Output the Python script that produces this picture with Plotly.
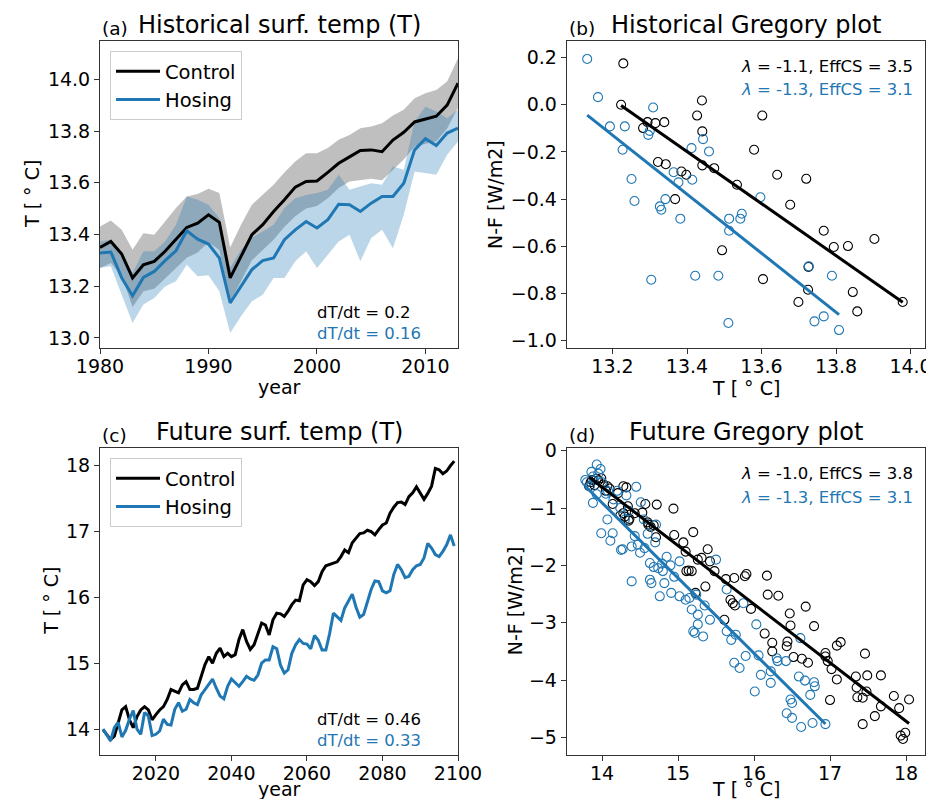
import numpy as np
import plotly.graph_objects as go

W, H = 934, 799
BLUE = "#1f77b4"
FONT = "DejaVu Sans"

# ---------------- data: (a) historical surface temperature ----------------
hist_years = list(range(1980, 2014))
hist_control = [13.350, 13.373, 13.324, 13.232, 13.283, 13.296, 13.335, 13.380, 13.427, 13.444,
                13.476, 13.447, 13.232, 13.315, 13.399, 13.438, 13.489, 13.534, 13.583, 13.605,
                13.607, 13.640, 13.675, 13.700, 13.725, 13.727, 13.720, 13.765, 13.795, 13.835,
                13.845, 13.857, 13.900, 13.985]
hist_control_hi = [13.431, 13.454, 13.418, 13.341, 13.405, 13.399, 13.450, 13.502, 13.547, 13.556,
                   13.577, 13.560, 13.350, 13.438, 13.515, 13.553, 13.592, 13.640, 13.682, 13.714,
                   13.714, 13.734, 13.766, 13.785, 13.811, 13.817, 13.830, 13.860, 13.882, 13.927,
                   13.946, 13.959, 13.991, 14.081]
hist_control_lo = [13.27, 13.29, 13.24, 13.12, 13.18, 13.19, 13.23, 13.27, 13.31, 13.33,
                   13.37, 13.34, 13.14, 13.22, 13.30, 13.34, 13.38, 13.43, 13.47, 13.50,
                   13.51, 13.54, 13.58, 13.605, 13.61, 13.615, 13.61, 13.65, 13.69, 13.74,
                   13.75, 13.76, 13.81, 13.89]
hist_hosing = [13.328, 13.332, 13.232, 13.163, 13.234, 13.257, 13.299, 13.337, 13.414, 13.382,
               13.363, 13.309, 13.135, 13.200, 13.264, 13.299, 13.309, 13.380, 13.418, 13.450,
               13.425, 13.457, 13.517, 13.515, 13.489, 13.521, 13.547, 13.547, 13.598, 13.727,
               13.770, 13.744, 13.792, 13.811]
hist_hosing_hi = [13.373, 13.380, 13.309, 13.251, 13.335, 13.335, 13.373, 13.438, 13.547, 13.534,
                  13.515, 13.464, 13.271, 13.341, 13.386, 13.412, 13.438, 13.502, 13.540, 13.553,
                  13.560, 13.573, 13.631, 13.573, 13.586, 13.598, 13.592, 13.663, 13.650, 13.837,
                  13.894, 13.875, 13.849, 13.882]
hist_hosing_lo = [13.271, 13.277, 13.167, 13.058, 13.129, 13.154, 13.199, 13.219, 13.283, 13.238,
                  13.242, 13.180, 13.019, 13.084, 13.142, 13.167, 13.232, 13.232, 13.296, 13.335,
                  13.270, 13.322, 13.373, 13.399, 13.296, 13.386, 13.418, 13.347, 13.476, 13.643,
                  13.637, 13.631, 13.708, 13.759]

# ---------------- data: (b) historical Gregory plot ----------------
hist_greg_ctrl_T = [13.229, 13.223, 13.440, 13.427, 13.602, 13.294, 13.315, 13.339, 13.282, 13.441,
                    13.580, 13.322, 13.343, 13.385, 13.398, 13.441, 13.473, 13.642, 13.720, 13.534,
                    13.368, 13.677, 13.767, 13.903, 13.794, 13.832, 13.494, 13.726, 13.604, 13.725,
                    13.845, 13.699, 13.979, 13.857]
hist_greg_ctrl_N = [0.175, 0.0, 0.018, -0.046, -0.046, -0.074, -0.078, -0.074, -0.099, -0.113,
                    -0.191, -0.243, -0.252, -0.283, -0.297, -0.257, -0.269, -0.297, -0.314, -0.339,
                    -0.400, -0.424, -0.534, -0.569, -0.603, -0.599, -0.617, -0.687, -0.739, -0.784,
                    -0.794, -0.836, -0.836, -0.876]
hist_greg_hos_T = [13.132, 13.161, 13.309, 13.193, 13.233, 13.296, 13.300, 13.443, 13.412, 13.459,
                   13.227, 13.364, 13.377, 13.414, 13.251, 13.597, 13.259, 13.342, 13.327, 13.331,
                   13.382, 13.513, 13.547, 13.543, 13.513, 13.304, 13.422, 13.484, 13.727, 13.789,
                   13.511, 13.742, 13.767, 13.808]
hist_greg_hos_N = [0.194, 0.032, -0.012, -0.092, -0.092, -0.128, -0.111, -0.146, -0.184, -0.198,
                   -0.191, -0.286, -0.329, -0.318, -0.315, -0.392, -0.408, -0.400, -0.431, -0.445,
                   -0.483, -0.483, -0.462, -0.483, -0.534, -0.742, -0.725, -0.725, -0.685, -0.725,
                   -0.925, -0.918, -0.897, -0.955]

# ---------------- data: (c) future surface temperature ----------------
fut_years = list(range(2006, 2100))
fut_control = [13.99, 13.91, 13.84, 13.89, 14.09, 14.29, 14.34, 14.14, 14.02, 14.19,
               14.29, 14.34, 14.29, 14.14, 14.22, 14.29, 14.34, 14.45, 14.60, 14.57,
               14.55, 14.67, 14.72, 14.60, 14.60, 14.62, 14.80, 14.98, 15.10, 15.00,
               15.15, 15.23, 15.10, 15.15, 15.10, 15.13, 15.36, 15.51, 15.33, 15.21,
               15.28, 15.46, 15.61, 15.58, 15.43, 15.66, 15.76, 15.75, 15.71, 15.79,
               15.89, 15.96, 15.95, 16.19, 16.27, 16.24, 16.18, 16.24, 16.39, 16.48,
               16.50, 16.52, 16.54, 16.62, 16.72, 16.68, 16.83, 16.90, 16.97, 16.98,
               17.02, 17.00, 16.95, 17.03, 17.10, 17.13, 17.28, 17.37, 17.44, 17.45,
               17.41, 17.53, 17.59, 17.68, 17.58, 17.49, 17.58, 17.69, 17.96, 17.94,
               17.88, 17.92, 18.00, 18.07]
fut_hosing = [14.00, 13.90, 13.82, 14.02, 14.10, 13.88, 13.98, 14.15, 14.28, 14.00,
              13.92, 14.25, 14.20, 13.90, 13.92, 13.97, 14.15, 14.07, 14.06, 14.30,
              14.40, 14.27, 14.30, 14.45, 14.40, 14.37, 14.52, 14.60, 14.68, 14.76,
              14.62, 14.50, 14.46, 14.65, 14.76, 14.70, 14.65, 14.72, 14.80, 14.76,
              14.74, 14.82, 15.00, 15.05, 15.05, 15.25, 15.22, 14.97, 14.85, 14.90,
              15.15, 15.28, 15.36, 15.30, 15.29, 15.22, 15.42, 15.35, 15.20, 15.20,
              15.45, 15.76, 15.70, 15.65, 15.84, 15.95, 16.05, 15.85, 15.70, 15.74,
              15.95, 16.12, 16.25, 16.24, 16.10, 16.07, 16.10, 16.35, 16.50, 16.42,
              16.30, 16.32, 16.42, 16.48, 16.50, 16.60, 16.82, 16.75, 16.65, 16.62,
              16.70, 16.80, 16.95, 16.78]

# ---------------- data: (d) future Gregory plot ----------------
fut_greg_ctrl_T = [13.83, 13.87, 13.93, 13.99, 14.02, 14.07, 14.14, 14.21, 14.28, 14.32,
                   14.24, 14.28, 14.34, 14.36, 14.43, 14.53, 14.57, 14.61, 14.64, 14.72,
                   14.71, 14.94, 14.95, 15.07, 15.10, 15.20, 15.26, 15.31, 15.39, 15.42,
                   15.48, 15.63, 15.74, 15.88, 15.11, 15.14, 15.18, 15.23, 15.36, 15.69,
                   15.72, 15.75, 15.61, 15.90, 16.17, 16.18, 16.32, 15.96, 16.68, 16.47,
                   16.48, 16.79, 16.14, 16.24, 16.24, 16.44, 16.43, 16.52, 16.63, 16.71,
                   16.94, 16.97, 17.02, 16.94, 17.09, 17.14, 17.09, 17.00, 17.34, 17.35,
                   17.36, 17.43, 17.46, 17.49, 17.48, 17.67, 17.67, 17.59, 17.43, 17.84,
                   17.91, 18.04, 17.93, 17.99, 17.96, 13.85, 13.90, 13.95, 14.05, 14.10,
                   14.30, 14.35, 14.60, 14.68]
fut_greg_ctrl_N = [-0.62, -0.51, -0.49, -0.48, -0.59, -0.62, -0.93, -0.74, -0.62, -0.64,
                   -1.13, -1.09, -0.97, -1.19, -1.09, -1.08, -0.93, -1.29, -1.33, -0.94,
                   -1.51, -1.01, -1.47, -1.60, -1.76, -1.42, -1.90, -1.87, -1.72, -1.93,
                   -2.10, -2.24, -2.22, -2.19, -2.10, -2.09, -2.10, -2.48, -2.37, -2.60,
                   -2.66, -2.70, -2.95, -2.15, -2.18, -2.51, -2.53, -2.76, -2.72, -2.84,
                   -3.05, -3.06, -3.19, -3.35, -3.50, -3.33, -3.41, -3.60, -3.63, -3.70,
                   -3.53, -3.67, -3.81, -3.59, -3.40, -3.34, -3.99, -4.35, -3.94, -4.13,
                   -4.30, -4.31, -3.54, -3.92, -4.20, -3.92, -4.46, -4.63, -4.77, -4.28,
                   -4.49, -4.34, -4.97, -4.92, -5.03, -0.55, -0.60, -0.52, -0.70, -0.66,
                   -1.15, -1.22, -1.25, -1.30]
fut_greg_hos_T = [13.78, 13.93, 13.98, 13.86, 13.88, 13.93, 14.08, 14.32, 14.45, 14.51,
                  13.99, 14.07, 14.14, 14.11, 14.25, 14.39, 14.47, 14.39, 14.71, 14.43,
                  13.84, 14.27, 14.30, 14.50, 14.56, 14.63, 14.68, 14.74, 14.79, 14.80,
                  14.63, 14.65, 14.76, 14.82, 14.91, 15.02, 15.02, 15.15, 15.18, 15.24,
                  15.26, 15.22, 15.20, 15.26, 15.33, 15.42, 15.50, 15.64, 15.64, 15.70,
                  15.76, 15.74, 15.81, 15.89, 15.86, 16.03, 16.06, 16.09, 16.01, 16.22,
                  16.22, 16.30, 16.31, 16.42, 16.61, 16.59, 16.67, 16.79, 16.80, 16.74,
                  16.48, 16.50, 16.43, 16.50, 16.62, 16.77, 16.94, 13.80, 13.88, 13.95,
                  14.00, 14.05, 14.15, 14.20, 14.24, 14.35, 14.55, 14.60, 14.70, 14.85,
                  14.90, 14.95, 15.10, 15.35]
fut_greg_hos_N = [-0.51, -0.24, -0.32, -0.37, -0.91, -0.76, -0.71, -0.78, -0.63, -0.90,
                  -1.44, -1.20, -1.44, -1.57, -1.73, -1.67, -1.64, -2.28, -1.29, -1.49,
                  -0.62, -1.72, -1.20, -1.78, -1.70, -1.96, -2.03, -2.05, -1.97, -2.10,
                  -2.25, -2.31, -2.54, -2.31, -2.48, -1.93, -2.54, -2.57, -2.77, -2.51,
                  -2.86, -3.18, -3.15, -3.03, -3.24, -2.95, -1.90, -2.42, -3.15, -3.30,
                  -3.21, -3.70, -3.79, -3.58, -2.66, -3.03, -3.57, -3.91, -4.20, -3.85,
                  -4.05, -3.62, -3.67, -3.67, -3.27, -3.94, -4.01, -4.04, -4.11, -4.26,
                  -4.34, -4.40, -4.58, -4.66, -4.82, -4.75, -4.77, -0.55, -0.45, -0.40,
                  -0.55, -0.75, -0.85, -0.70, -1.00, -1.05, -1.20, -1.45, -1.60, -1.85,
                  -2.00, -2.20, -2.60, -2.70]

# ---------------- text ----------------
titles = {"a": "Historical surf. temp (T)", "b": "Historical Gregory plot",
          "c": "Future surf. temp (T)", "d": "Future Gregory plot"}
trend_text = {"a": ("dT/dt = 0.2", "dT/dt = 0.16"), "c": ("dT/dt = 0.46", "dT/dt = 0.33")}
greg_text = {"b": ("<i>λ</i> = -1.1, EffCS = 3.5", "<i>λ</i> = -1.3, EffCS = 3.1"),
             "d": ("<i>λ</i> = -1.0, EffCS = 3.8", "<i>λ</i> = -1.3, EffCS = 3.1")}

# ---------------- layout geometry (pixels) ----------------
boxes = {"a": (92, 450, 33, 340), "b": (558.7, 916.7, 33, 340),
         "c": (92, 450, 440, 746.7), "d": (558.7, 916.7, 440, 746.7)}
axnames = {"a": ("x", "y"), "b": ("x2", "y2"), "c": ("x3", "y3"), "d": ("x4", "y4")}


def px(xp):
    return xp / W


def py(yp):
    return 1 - yp / H


fig = go.Figure()

# (a) bands and lines
fig.add_trace(go.Scatter(x=hist_years, y=hist_control_hi, mode="lines", line=dict(width=0),
                         showlegend=False, hoverinfo="skip", xaxis="x", yaxis="y"))
fig.add_trace(go.Scatter(x=hist_years, y=hist_control_lo, mode="lines", line=dict(width=0),
                         fill="tonexty", fillcolor="rgba(128,128,128,0.5)",
                         showlegend=False, hoverinfo="skip", xaxis="x", yaxis="y"))
fig.add_trace(go.Scatter(x=hist_years, y=hist_hosing_hi, mode="lines", line=dict(width=0),
                         showlegend=False, hoverinfo="skip", xaxis="x", yaxis="y"))
fig.add_trace(go.Scatter(x=hist_years, y=hist_hosing_lo, mode="lines", line=dict(width=0),
                         fill="tonexty", fillcolor="rgba(31,119,180,0.3)",
                         showlegend=False, hoverinfo="skip", xaxis="x", yaxis="y"))
fig.add_trace(go.Scatter(x=hist_years, y=hist_control, mode="lines", name="Control",
                         line=dict(color="black", width=3), legend="legend", xaxis="x", yaxis="y"))
fig.add_trace(go.Scatter(x=hist_years, y=hist_hosing, mode="lines", name="Hosing",
                         line=dict(color=BLUE, width=3), legend="legend", xaxis="x", yaxis="y"))

# (c) lines
fig.add_trace(go.Scatter(x=fut_years, y=fut_control, mode="lines", name="Control",
                         line=dict(color="black", width=3), legend="legend2", xaxis="x3", yaxis="y3"))
fig.add_trace(go.Scatter(x=fut_years, y=fut_hosing, mode="lines", name="Hosing",
                         line=dict(color=BLUE, width=3), legend="legend2", xaxis="x3", yaxis="y3"))


def gregory(T, N, color, xa, ya):
    fig.add_trace(go.Scatter(x=T, y=N, mode="markers", showlegend=False,
                             marker=dict(symbol="circle-open", size=9, color=color,
                                         line=dict(width=1.1, color=color)),
                             xaxis=xa, yaxis=ya))


def fitline(T, N, color, xa, ya):
    coef = np.polyfit(T, N, 1)
    xs = np.array([min(T), max(T)])
    fig.add_trace(go.Scatter(x=xs, y=np.polyval(coef, xs), mode="lines", showlegend=False,
                             line=dict(color=color, width=3), xaxis=xa, yaxis=ya))


gregory(hist_greg_ctrl_T, hist_greg_ctrl_N, "black", "x2", "y2")
gregory(hist_greg_hos_T, hist_greg_hos_N, BLUE, "x2", "y2")
fitline(hist_greg_ctrl_T, hist_greg_ctrl_N, "black", "x2", "y2")
fitline(hist_greg_hos_T, hist_greg_hos_N, BLUE, "x2", "y2")

gregory(fut_greg_ctrl_T, fut_greg_ctrl_N, "black", "x4", "y4")
gregory(fut_greg_hos_T, fut_greg_hos_N, BLUE, "x4", "y4")
fitline(fut_greg_ctrl_T, fut_greg_ctrl_N, "black", "x4", "y4")
fitline(fut_greg_hos_T, fut_greg_hos_N, BLUE, "x4", "y4")

axis_style = dict(showline=True, mirror=True, linecolor="#333333", linewidth=1,
                  ticks="outside", ticklen=5, tickwidth=1, tickcolor="#333333",
                  showgrid=False, zeroline=False, automargin=False,
                  tickfont=dict(size=19, color="black"))

ranges = {
    "a": dict(x=[1980, 2013], y=[12.961, 14.148], xt=[1980, 1990, 2000, 2010],
              yt=[13.0, 13.2, 13.4, 13.6, 13.8, 14.0], yfmt=".1f", xfmt="d"),
    "b": dict(x=[13.077, 14.038], y=[-1.031, 0.27], xt=[13.2, 13.4, 13.6, 13.8, 14.0],
              yt=[-1.0, -0.8, -0.6, -0.4, -0.2, 0.0, 0.2], yfmt=".1f", xfmt=".1f"),
    "c": dict(x=[2005.2, 2100], y=[13.61, 18.27], xt=[2020, 2040, 2060, 2080, 2100],
              yt=[14, 15, 16, 17, 18], yfmt="d", xfmt="d"),
    "d": dict(x=[13.535, 18.246], y=[-5.303, 0.047], xt=[14, 15, 16, 17, 18],
              yt=[-5, -4, -3, -2, -1, 0], yfmt="d", xfmt="d"),
}

layout_axes = {}
for k, (x0, x1, y0, y1) in boxes.items():
    xa, ya = axnames[k]
    xkey = "xaxis" + xa[1:]
    ykey = "yaxis" + ya[1:]
    r = ranges[k]
    layout_axes[xkey] = dict(axis_style, domain=[px(x0), px(x1)], range=r["x"], tickvals=r["xt"],
                             tickformat=r["xfmt"], anchor=ya, ticklabelstandoff=-4)
    layout_axes[ykey] = dict(axis_style, domain=[py(y1), py(y0)], range=r["y"], tickvals=r["yt"],
                             tickformat=r["yfmt"], anchor=xa)

annotations = []
letters = {"a": "(a)", "b": "(b)", "c": "(c)", "d": "(d)"}
for k, (x0, x1, y0, y1) in boxes.items():
    annotations.append(dict(text=titles[k], x=px((x0 + x1) / 2), y=py(y0), xref="paper", yref="paper",
                            xanchor="center", yanchor="bottom", showarrow=False,
                            font=dict(size=24, color="black")))
    annotations.append(dict(text=letters[k], x=px(x0), y=py(y0), xref="paper", yref="paper",
                            xanchor="left", yanchor="bottom", showarrow=False,
                            font=dict(size=18.5, color="black")))

# axis titles
xtitles = [("year", 271, 379), ("T [ ° C]", 737.7, 380), ("year", 271, 781), ("T [ ° C]", 737.7, 781)]
for t, xx, yy in xtitles:
    annotations.append(dict(text=t, x=px(xx), y=py(yy), xref="paper", yref="paper",
                            xanchor="center", yanchor="middle", showarrow=False,
                            font=dict(size=19, color="black")))
ytitles = [("T [ ° C]", 24.5, 186.5), ("N-F [W/m2]", 487.5, 186.5),
           ("T [ ° C]", 43.5, 593.3), ("N-F [W/m2]", 507, 593.3)]
for t, xx, yy in ytitles:
    annotations.append(dict(text=t, x=px(xx), y=py(yy), xref="paper", yref="paper",
                            xanchor="center", yanchor="middle", showarrow=False, textangle=-90,
                            font=dict(size=19, color="black")))

# trend annotations
for k, (yb, yh) in {"a": (304, 325.7), "c": (711, 732.3)}.items():
    annotations.append(dict(text=trend_text[k][0], x=px(306.7), y=py(yb), xref="paper", yref="paper",
                            xanchor="left", yanchor="middle", showarrow=False,
                            font=dict(size=16.5, color="black")))
    annotations.append(dict(text=trend_text[k][1], x=px(306.7), y=py(yh), xref="paper", yref="paper",
                            xanchor="left", yanchor="middle", showarrow=False,
                            font=dict(size=16.5, color=BLUE)))
for k, (yb, yh) in {"b": (58.3, 81.7), "d": (465.3, 489.7)}.items():
    annotations.append(dict(text=greg_text[k][0], x=px(906.5), y=py(yb), xref="paper", yref="paper",
                            xanchor="right", yanchor="middle", showarrow=False,
                            font=dict(size=16.5, color="black")))
    annotations.append(dict(text=greg_text[k][1], x=px(906.5), y=py(yh), xref="paper", yref="paper",
                            xanchor="right", yanchor="middle", showarrow=False,
                            font=dict(size=16.5, color=BLUE)))

legend_style = dict(xanchor="left", yanchor="top", bordercolor="#cccccc", borderwidth=1,
                    bgcolor="rgba(255,255,255,0.8)", font=dict(size=19.5, color="black"),
                    itemwidth=44, tracegroupgap=0, traceorder="normal")

fig.update_layout(
    width=W, height=H, autosize=False,
    margin=dict(l=0, r=0, t=0, b=0, autoexpand=False),
    paper_bgcolor="white", plot_bgcolor="white",
    font=dict(family=FONT, color="black"),
    legend=dict(legend_style, x=px(102), y=py(43)),
    legend2=dict(legend_style, x=px(102), y=py(450)),
    annotations=annotations,
    **layout_axes,
)

fig.write_html("out.html")
